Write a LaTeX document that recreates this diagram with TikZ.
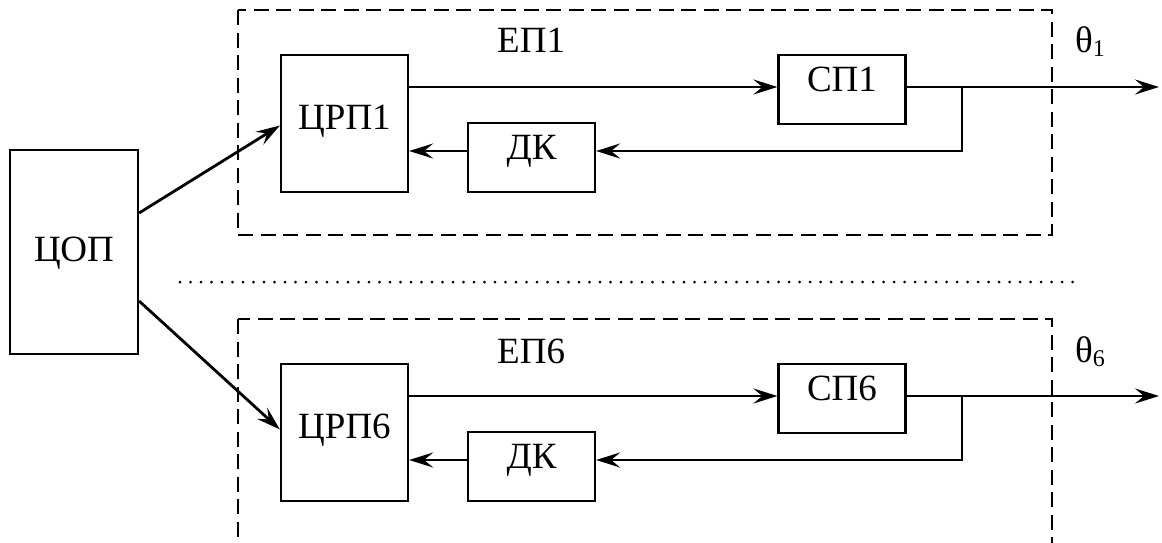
\documentclass[tikz,border=0pt]{standalone}
\usepackage{fontspec}
\setmainfont{Liberation Serif}
\usetikzlibrary{arrows.meta,calc}
\begin{document}
\begin{tikzpicture}[x=1pt,y=-1pt,
  blk/.style={draw,line width=2.2pt,inner sep=0pt,font=\fontsize{37}{40}\selectfont},
  bigblk/.style={blk,minimum width=127pt,minimum height=137pt,text height=25pt,text depth=13pt},
  smallblk/.style={blk,minimum width=127pt,minimum height=69pt,text height=25pt,text depth=21pt},
  conn/.style={line width=2.8pt},
  arr/.style={conn,-{Stealth[length=24pt,width=15pt,inset=9pt]}},
  dashbox/.style={line width=2.2pt,dash pattern=on 15pt off 7.5pt},
  dotline/.style={line width=3pt,line cap=round,dash pattern=on 0pt off 10.5pt},
  lbl/.style={inner sep=0pt,anchor=base west,font=\fontsize{37}{40}\selectfont}]
\useasboundingbox (0,0) rectangle (1162,542);
% central block
\node[blk,minimum width=128pt,minimum height=204pt,text height=25pt,text depth=6pt] (cop) at (74,252) {ЦОП};
% ---------- unit 1 ----------
\draw[dashbox] (238,10) rectangle (1052,235);
\node[lbl] (ep1) at (497,52.5) {ЕП1};
\node[lbl] (th1) at (1075,52) {θ{\fontsize{24}{24}\selectfont\raisebox{-4pt}{1}}};
\node[bigblk] (crp1) at (344.5,123.5) {ЦРП1};
\node[smallblk] (dk1) at (531.5,157.5) {ДК};
\node[smallblk] (sp1) at (842,89.5) {СП1};
\coordinate (j1) at (962,87);
\coordinate (k1) at (962,151);
\coordinate (o1) at (1159,87);
\draw[arr] (crp1.east |- j1) -- (sp1.west |- j1);
\draw[arr] (sp1.east |- j1) -- (o1);
\draw[arr] (j1) -- (k1) -- (dk1.east |- k1);
\draw[arr] (dk1.west |- k1) -- (crp1.east |- k1);
\draw[arr] ([yshift=39pt]cop.east) -- ([yshift=-2pt]crp1.west);
% ---------- separator ----------
\coordinate (d1) at (180,282);
\coordinate (d2) at (1078,282);
\draw[dotline] (d1) -- (d2);
% ---------- unit 6 ----------
\draw[dashbox] (238,319) rectangle (1052,546);
\node[lbl] (ep6) at (497,363) {ЕП6};
\node[lbl] (th6) at (1075,362) {θ{\fontsize{24}{24}\selectfont\raisebox{-4pt}{6}}};
\node[bigblk] (crp6) at (344.5,432.5) {ЦРП6};
\node[smallblk] (dk6) at (531.5,466.5) {ДК};
\node[smallblk] (sp6) at (842,398.5) {СП6};
\coordinate (j6) at (962,396);
\coordinate (k6) at (962,460);
\coordinate (o6) at (1159,396);
\draw[arr] (crp6.east |- j6) -- (sp6.west |- j6);
\draw[arr] (sp6.east |- j6) -- (o6);
\draw[arr] (j6) -- (k6) -- (dk6.east |- k6);
\draw[arr] (dk6.west |- k6) -- (crp6.east |- k6);
\draw[arr] ([yshift=-49pt]cop.east) -- ([yshift=3pt]crp6.west);
\end{tikzpicture}
\end{document}
